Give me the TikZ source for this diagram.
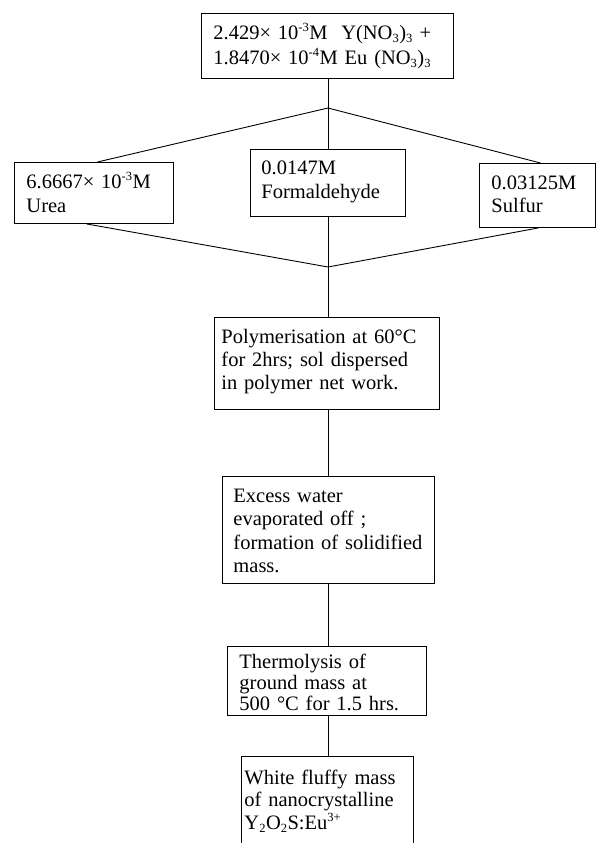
\documentclass[tikz,border=0pt]{standalone}
\usepackage{fontspec}
\setmainfont{Liberation Serif}
\DeclareMathSizes{20.5}{20.5}{12.5}{10}
\tikzset{
  stagebox/.style={draw, line width=0.9pt, anchor=north west, align=left, inner ysep=0pt,
    font=\fontsize{20.5}{23}\selectfont},
  link/.style={line width=0.9pt},
}

\begin{document}
\begin{tikzpicture}[x=1pt,y=-1pt]
  \useasboundingbox (0,0) rectangle (596,843);
  \clip (0,0) rectangle (596,843);

  % Starting nitrate solution
  \node[stagebox, inner xsep=12pt, text width=228pt, text height=26pt, text depth=39pt,
    font=\fontsize{20.5}{25}\selectfont] (mix) at (201,13)
    {2.429× 10\textsuperscript{-3}M\ \ Y(NO\textsubscript{3})\textsubscript{3} +\\
     1.8470× 10\textsuperscript{-4}M Eu (NO\textsubscript{3})\textsubscript{3}};

  % Three additions
  \node[stagebox, inner xsep=12pt, text width=135pt, text height=26pt, text depth=35pt,
    font=\fontsize{20.5}{24}\selectfont] (urea) at (14,162)
    {6.6667× 10\textsuperscript{-3}M\\Urea};
  \node[stagebox, inner xsep=11pt, text width=133pt, text height=25pt, text depth=42pt,
    font=\fontsize{20.5}{24}\selectfont] (formal) at (250,149)
    {0.0147M\\Formaldehyde};
  \node[stagebox, inner xsep=12pt, text width=92pt, text height=26pt, text depth=38pt] (sulfur) at (479,163)
    {0.03125M\\Sulfur};

  % Process steps
  \node[stagebox, inner xsep=7pt, text width=211pt, text height=26pt, text depth=66pt] (poly) at (214,317)
    {Polymerisation at 60°C\\for 2hrs; sol dispersed\\in polymer net work.};
  \node[stagebox, inner xsep=11pt, text width=190pt, text height=26pt, text depth=81pt,
    font=\fontsize{20.5}{23.3}\selectfont] (evap) at (222,476)
    {Excess water\\evaporated off ;\\formation of solidified\\mass.};
  \node[stagebox, inner xsep=12pt, text width=175pt, text height=22pt, text depth=47pt,
    font=\fontsize{20.5}{21}\selectfont] (thermo) at (227,646)
    {Thermolysis of\\ground mass at\\500 °C for 1.5 hrs.};
  \node[stagebox, inner xsep=3pt, text width=166pt, text height=28pt, text depth=120pt,
    font=\fontsize{20.5}{22.5}\selectfont] (product) at (241,756)
    {White fluffy mass\\of nanocrystalline\\Y\textsubscript{2}O\textsubscript{2}S:Eu\textsuperscript{3+}};

  % Branch and join points
  \coordinate (split) at (328,108);
  \coordinate (merge) at (328,267);

  % Drawing connectors
  \draw[link] (mix.south -| split) -- (split);
  \draw[link] (split) -- ([xshift=3.5pt]urea.north);
  \draw[link] (split) -- (formal.north -| split);
  \draw[link] (split) -- ([xshift=3pt]sulfur.north);
  \draw[link] ([xshift=-7.5pt]urea.south) -- (merge);
  \draw[link] (formal.south -| merge) -- (merge);
  \draw[link] ([xshift=1pt]sulfur.south) -- (merge);
  \draw[link] (merge) -- (poly.north -| merge);
  \draw[link] (poly.south -| merge) -- (evap.north -| merge);
  \draw[link] (evap.south -| merge) -- (thermo.north -| merge);
  \draw[link] (thermo.south -| merge) -- (product.north -| merge);
\end{tikzpicture}
\end{document}
